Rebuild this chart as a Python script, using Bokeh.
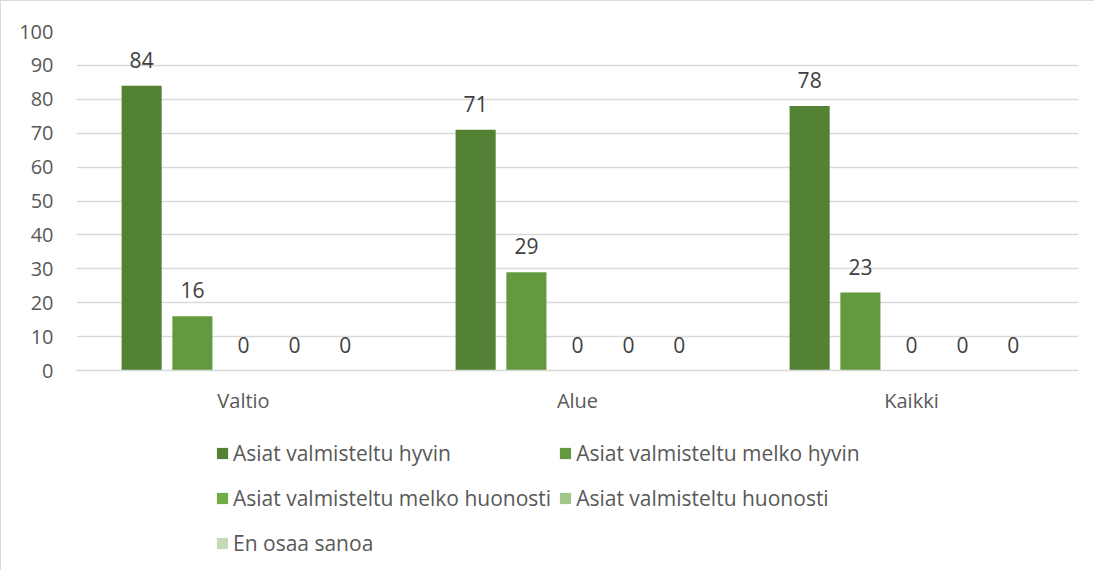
from bokeh.plotting import figure
from bokeh.layouts import column
from bokeh.models import ColumnDataSource, FactorRange, Legend, LegendItem, SingleIntervalTicker, Range1d
from bokeh.transform import dodge
from bokeh.core.properties import value
from bokeh.embed import file_html
from bokeh.resources import INLINE

categories = ["Valtio", "Alue", "Kaikki"]
series_names = [
    "Asiat valmisteltu hyvin",
    "Asiat valmisteltu melko hyvin",
    "Asiat valmisteltu melko huonosti",
    "Asiat valmisteltu huonosti",
    "En osaa sanoa",
]
hyvin = [84, 71, 78]
melko_hyvin = [16, 29, 23]
melko_huonosti = [0, 0, 0]
huonosti = [0, 0, 0]
en_osaa = [0, 0, 0]
series_values = [hyvin, melko_hyvin, melko_huonosti, huonosti, en_osaa]
colors = ["#548235", "#639A3F", "#70AD47", "#A2C78A", "#C5DBB7"]
offsets = [-0.305, -0.153, 0.0, 0.153, 0.305]

FONT = "Open Sans"

p = figure(
    x_range=FactorRange(factors=categories, range_padding=0),
    y_range=(0, 100),
    width=1094, height=420,
    output_backend="svg", toolbar_location=None,
    min_border_left=75, min_border_right=17, min_border_top=30, min_border_bottom=51,
)
p.styles = {"border-left": "1px solid #d9d9d9", "border-top": "1px solid #d9d9d9"}
p.outline_line_color = None
p.background_fill_color = "white"
p.border_fill_color = "white"

sources = []
for name, vals, col, off in zip(series_names, series_values, colors, offsets):
    src = ColumnDataSource(dict(cat=categories, val=vals, lab=[str(v) for v in vals]))
    sources.append(src)
    p.vbar(x=dodge("cat", off, range=p.x_range), top="val", width=0.12, source=src,
           fill_color=col, line_color=None)
    p.text(x=dodge("cat", off, range=p.x_range), y="val", text="lab", source=src,
           text_align="center", text_baseline="alphabetic", y_offset=-26,
           text_font=value(FONT), text_font_size="21px", text_color="#404040")

p.yaxis.ticker = SingleIntervalTicker(interval=10)
p.yaxis.axis_line_color = None
p.yaxis.major_tick_line_color = None
p.yaxis.minor_tick_line_color = None
p.yaxis.major_tick_out = 0
p.yaxis.major_label_standoff = 19
p.yaxis.major_label_text_font = FONT
p.yaxis.major_label_text_font_size = "20px"
p.yaxis.major_label_text_color = "#595959"

p.xaxis.axis_line_color = "#d9d9d9"
p.xaxis.axis_line_width = 1.5
p.xaxis.major_tick_line_color = None
p.xaxis.minor_tick_line_color = None
p.xaxis.major_tick_out = 0
p.xaxis.major_label_standoff = 16
p.xaxis.major_label_text_font = FONT
p.xaxis.major_label_text_font_size = "20px"
p.xaxis.major_label_text_color = "#595959"

p.xgrid.grid_line_color = None
p.ygrid.grid_line_color = "#d9d9d9"
p.ygrid.grid_line_width = 1.5

# legend panel (separate figure below the chart); its legend-only bars have no area and lie off-view
lg = figure(width=1094, height=150, output_backend="svg", toolbar_location=None,
            x_range=FactorRange(factors=categories), y_range=Range1d(1000, 1001),
            x_axis_location=None, y_axis_location=None,
            min_border=0, outline_line_color=None)
lg.styles = {"border-left": "1px solid #d9d9d9"}
lg.grid.visible = False
lg_renderers = []
for src, col in zip(sources, colors):
    lg_renderers.append(lg.vbar(x=dodge("cat", 5, range=lg.x_range), top="val", bottom="val",
                                width=0, source=src, fill_color=col, line_color=None))

# column-major filling: reorder so rows read left-to-right like the reference
order = [0, 2, 4, 1, 3]
items = [LegendItem(label=series_names[i], renderers=[lg_renderers[i]]) for i in order]
legend = Legend(items=items, ncols=2, location=(139, 8),
                glyph_width=14, glyph_height=14, label_standoff=4,
                spacing=7, padding=0, margin=0,
                label_text_font=FONT, label_text_font_size="21px",
                label_text_color="#595959", label_height=38,
                border_line_color=None, background_fill_alpha=0)
lg.add_layout(legend, "center")

layout = column(p, lg, spacing=0)
open("out.html", "w").write(file_html(layout, INLINE))
